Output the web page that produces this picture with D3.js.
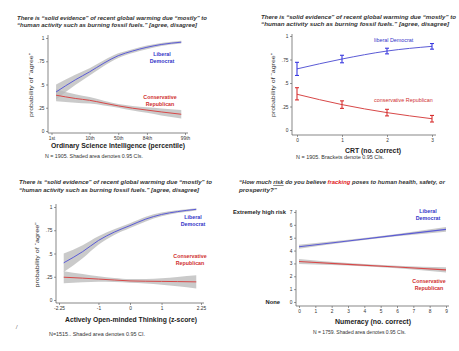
<!DOCTYPE html>
<html><head><meta charset="utf-8">
<script src="https://cdn.jsdelivr.net/npm/d3@7"></script>
<style>
html,body{margin:0;padding:0;background:#fff;}
svg{display:block;font-family:"Liberation Sans",Arial,sans-serif;}
</style></head><body>
<script>
// ---------- DATA ----------
// Panel 1: Ordinary Science Intelligence (z-score positions of percentiles)
const p1TickVals = [-2.33, -1, 0, 1, 2.33];
const p1TickLabels = ["1st", "10th", "50th", "84th", "99th"];
const p1X = [-2.17, -1.5, -1, -0.5, 0, 0.5, 1, 1.5, 2.2];
const p1Lib = [0.42, 0.55, 0.636, 0.73, 0.81, 0.86, 0.90, 0.93, 0.955];
const p1LibCI = [0.08, 0.055, 0.04, 0.03, 0.025, 0.02, 0.02, 0.017, 0.015];
const p1Con = [0.385, 0.35, 0.33, 0.30, 0.27, 0.245, 0.225, 0.205, 0.18];
const p1ConCI = [0.065, 0.045, 0.035, 0.025, 0.02, 0.025, 0.03, 0.037, 0.045];

// Panel 2: CRT
const p2X = [0, 1, 2, 3];
const p2Lib = [0.65, 0.755, 0.84, 0.89];
const p2LibLo = [0.58, 0.715, 0.81, 0.86];
const p2LibHi = [0.72, 0.795, 0.87, 0.92];
const p2Con = [0.38, 0.27, 0.185, 0.12];
const p2ConLo = [0.32, 0.23, 0.15, 0.085];
const p2ConHi = [0.45, 0.31, 0.22, 0.155];

// Panel 3: Actively Open-minded Thinking
const p3TickVals = [-2.25, -1, 0, 1, 2.25];
const p3TickLabels = ["-2.25", "-1", "0", "1", "2.25"];
const p3X = [-2.1, -1.5, -1, -0.5, 0, 0.5, 1, 1.5, 2.1];
const p3Lib = [0.40, 0.52, 0.64, 0.73, 0.80, 0.87, 0.92, 0.95, 0.975];
const p3LibCI = [0.10, 0.07, 0.045, 0.03, 0.025, 0.025, 0.02, 0.015, 0.012];
const p3Con = [0.245, 0.235, 0.225, 0.215, 0.205, 0.202, 0.20, 0.198, 0.195];
const p3ConCI = [0.065, 0.045, 0.03, 0.022, 0.02, 0.025, 0.035, 0.05, 0.07];

// Panel 4: Numeracy vs fracking risk
const p4X = [0, 3, 6, 9];
const p4Lib = [4.3, 4.75, 5.2, 5.65];
const p4LibCI = [0.15, 0.09, 0.09, 0.18];
const p4Con = [3.15, 2.93, 2.72, 2.5];
const p4ConCI = [0.2, 0.1, 0.1, 0.2];

const probTicks = [0, 0.25, 0.5, 0.75, 1];
const probTickLabels = ["0", ".25", ".5", ".75", "1"];
const riskTicks = [0, 1, 2, 3, 4, 5, 6, 7];

// ---------- STYLE ----------
const W = 459, H = 351;
const BLUE_LINE = "#5b5bd6", BLUE_TXT = "#3434c8";
const RED_LINE = "#d84848", RED_TXT = "#d03030";
const BAND = "#b8b8b8";
const AXIS = "#555";

const svg = d3.select("body").append("svg").attr("width", W).attr("height", H);
svg.append("rect").attr("width", W).attr("height", H).attr("fill", "#fff");

function text(g, x, y, str, o = {}) {
  const t = g.append("text").attr("x", x).attr("y", y).text(str)
    .attr("font-size", o.size || 5).attr("font-weight", o.weight || "normal")
    .attr("font-style", o.style || "normal").attr("fill", o.fill || "#222")
    .attr("text-anchor", o.anchor || "start");
  if (o.len) t.attr("textLength", o.len).attr("lengthAdjust", "spacingAndGlyphs");
  return t;
}

function title(x, y1, l1, l2, w1, w2) {
  text(svg, x, y1, l1, {size: 5.8, weight: "bold", style: "italic", fill: "#333", len: w1});
  text(svg, x, y1 + 7.8, l2, {size: 5.8, weight: "bold", style: "italic", fill: "#333", len: w2});
}

function styleAxis(g) {
  g.select(".domain").remove();
  g.selectAll(".tick line").attr("stroke", AXIS).attr("stroke-width", 0.6);
  g.selectAll(".tick text").attr("font-size", 4.8).attr("fill", "#333").attr("font-family", "Liberation Sans, Arial, sans-serif");
}
function axes(x, y, x0, y0, xTop, xRight, yTickVals, yTickLabels, xTickVals, xTickLabels) {
  const gy = svg.append("g").attr("transform", `translate(${x0},0)`)
    .call(d3.axisLeft(y).tickValues(yTickVals).tickSize(2).tickPadding(1.5).tickFormat((d, i) => yTickLabels[i]));
  styleAxis(gy);
  const gx = svg.append("g").attr("transform", `translate(0,${y0})`)
    .call(d3.axisBottom(x).tickValues(xTickVals).tickSize(2).tickPadding(1.5).tickFormat((d, i) => xTickLabels[i]));
  styleAxis(gx);
  svg.append("path").attr("d", `M${x0},${xTop}V${y0}H${xRight}`).attr("fill", "none")
    .attr("stroke", AXIS).attr("stroke-width", 0.7);
}
function yLabel(x, y, str, len) {
  svg.append("text").attr("transform", `translate(${x},${y}) rotate(-90)`)
    .attr("text-anchor", "middle").attr("font-size", 6).attr("fill", "#333")
    .attr("textLength", len).attr("lengthAdjust", "spacingAndGlyphs").text(str);
}
function band(x, y, xs, vs, ci, curve) {
  const area = d3.area().x((d, i) => x(xs[i])).y0((d, i) => y(vs[i] - ci[i])).y1((d, i) => y(vs[i] + ci[i])).curve(curve);
  svg.append("path").datum(xs).attr("d", area).attr("fill", BAND).attr("fill-opacity", 0.75);
}
function line(x, y, xs, vs, color, curve, w) {
  const ln = d3.line().x((d, i) => x(xs[i])).y((d, i) => y(vs[i])).curve(curve);
  svg.append("path").datum(xs).attr("d", ln).attr("fill", "none").attr("stroke", color).attr("stroke-width", w || 1);
}
function label2(x, y, l1, l2, color) {
  text(svg, x, y, l1, {size: 5.3, weight: "bold", fill: color, anchor: "middle"});
  text(svg, x, y + 7, l2, {size: 5.3, weight: "bold", fill: color, anchor: "middle"});
}
function xTitle(cx, y, str, len) {
  text(svg, cx, y, str, {size: 6.7, weight: "bold", anchor: "middle", fill: "#222", len: len});
}
function foot(x, y, str, len) {
  text(svg, x, y, str, {size: 4.6, fill: "#333", len: len});
}

const T1 = "There is \u201csolid evidence\u201d of recent global warming due \u201cmostly\u201d to";
const T2 = "\u201chuman activity such as burning fossil fuels.\u201d [agree, disagree]";
const YL = "probability of \u201cagree\u201d";

// ---------- PANEL 1 ----------
{
  const x = d3.scaleLinear().domain([-2.33, 2.33]).range([51.5, 185]);
  const y = d3.scaleLinear().domain([0, 1]).range([131, 38]);
  title(17, 19.5, T1, T2, 190, 180);
  band(x, y, p1X, p1Lib, p1LibCI, d3.curveMonotoneX);
  band(x, y, p1X, p1Con, p1ConCI, d3.curveMonotoneX);
  line(x, y, p1X, p1Lib, BLUE_LINE, d3.curveMonotoneX);
  line(x, y, p1X, p1Con, RED_LINE, d3.curveMonotoneX);
  axes(x, y, 48, 133, 35, 188, probTicks, probTickLabels, p1TickVals, p1TickLabels);
  yLabel(33, 85, YL, 64);
  xTitle(118, 148, "Ordinary Science Intelligence (percentile)", 134);
  foot(45, 157.5, "N = 1905. Shaded area denotes 0.95 CIs.", 98);
  label2(162, 56, "Liberal", "Democrat", BLUE_TXT);
  label2(160, 99, "Conservative", "Republican", RED_TXT);
}

// ---------- PANEL 2 ----------
{
  const x = d3.scaleLinear().domain([0, 3]).range([297, 432]);
  const y = d3.scaleLinear().domain([0, 1]).range([130, 36]);
  title(261, 18.5, T1, T2, 195, 188);
  line(x, y, p2X, p2Lib, BLUE_LINE, d3.curveMonotoneX, 1);
  line(x, y, p2X, p2Con, RED_LINE, d3.curveMonotoneX, 1);
  const bars = (lo, hi, color) => {
    const g = svg.append("g").attr("stroke", color).attr("stroke-width", 1.1);
    p2X.forEach((d, i) => {
      g.append("line").attr("x1", x(d)).attr("x2", x(d)).attr("y1", y(lo[i])).attr("y2", y(hi[i]));
      g.append("line").attr("x1", x(d) - 2).attr("x2", x(d) + 2).attr("y1", y(lo[i])).attr("y2", y(lo[i]));
      g.append("line").attr("x1", x(d) - 2).attr("x2", x(d) + 2).attr("y1", y(hi[i])).attr("y2", y(hi[i]));
    });
  };
  bars(p2LibLo, p2LibHi, "#3a3ae0");
  bars(p2ConLo, p2ConHi, "#d83030");
  axes(x, y, 292, 135, 34, 436, probTicks, probTickLabels, p2X, p2X.map(String));
  yLabel(275, 85, YL, 64);
  xTitle(373, 152.5, "CRT (no. correct)", 56);
  foot(296, 159, "N = 1905. Brackets denote 0.95 CIs.", 88);
  text(svg, 374, 42, "liberal Democrat", {size: 5.4, fill: BLUE_TXT});
  text(svg, 374, 102, "conservative Republican", {size: 5.4, fill: RED_TXT});
}

// ---------- PANEL 3 ----------
{
  const x = d3.scaleLinear().domain([-2.25, 2.25]).range([59, 201]);
  const y = d3.scaleLinear().domain([0, 1]).range([300, 207]);
  title(19, 184, T1, T2, 193, 180);
  band(x, y, p3X, p3Lib, p3LibCI, d3.curveMonotoneX);
  band(x, y, p3X, p3Con, p3ConCI, d3.curveMonotoneX);
  line(x, y, p3X, p3Lib, BLUE_LINE, d3.curveMonotoneX);
  line(x, y, p3X, p3Con, RED_LINE, d3.curveMonotoneX);
  axes(x, y, 56, 303, 204, 204, probTicks, probTickLabels, p3TickVals, p3TickLabels);
  yLabel(39, 255, YL, 65);
  xTitle(131, 321.5, "Actively Open-minded Thinking (z-score)", 132);
  foot(49, 336, "N=1515.. Shaded area denotes 0.95 CI.", 96);
  text(svg, 16, 329, "/", {size: 4.5, style: "italic", fill: "#333"});
  label2(193, 219, "Liberal", "Democrat", BLUE_TXT);
  label2(190, 258, "Conservative", "Republican", RED_TXT);
}

// ---------- PANEL 4 ----------
{
  const x = d3.scaleLinear().domain([0, 9]).range([299, 446]);
  const y = d3.scaleLinear().domain([0, 7]).range([302, 212]);
  const tl = svg.append("text").attr("x", 239).attr("y", 184).attr("font-size", 5.8)
    .attr("font-style", "italic").attr("font-weight", "bold").attr("fill", "#333")
    .attr("textLength", 206).attr("lengthAdjust", "spacingAndGlyphs");
  tl.append("tspan").text("\u201cHow much ");
  tl.append("tspan").text("risk").attr("text-decoration", "underline");
  tl.append("tspan").text(" do you believe ");
  tl.append("tspan").text("fracking").attr("fill", "#e02020");
  tl.append("tspan").text(" poses to human health, safety, or");
  text(svg, 239, 192, "prosperity?\u201d", {size: 5.8, weight: "bold", style: "italic", fill: "#333", len: 38});
  band(x, y, p4X, p4Lib, p4LibCI, d3.curveMonotoneX);
  band(x, y, p4X, p4Con, p4ConCI, d3.curveMonotoneX);
  line(x, y, p4X, p4Lib, BLUE_LINE, d3.curveLinear, 1.1);
  line(x, y, p4X, p4Con, RED_LINE, d3.curveLinear, 1.1);
  axes(x, y, 296, 306, 210, 449, riskTicks, riskTicks.map(String), d3.range(0, 10), d3.range(0, 10).map(String));
  text(svg, 233, 214, "Extremely high risk", {size: 5.8, weight: "bold", fill: "#222", len: 53});
  text(svg, 280, 304, "None", {size: 5.8, weight: "bold", fill: "#222", anchor: "end"});
  xTitle(373, 323.5, "Numeracy (no. correct)", 76);
  foot(313, 334, "N = 1759.  Shaded area denotes 0.95 CIs.", 93);
  label2(428, 213, "Liberal", "Democrat", BLUE_TXT);
  label2(429, 283, "Conservative", "Republican", RED_TXT);
}
</script>
</body></html>
